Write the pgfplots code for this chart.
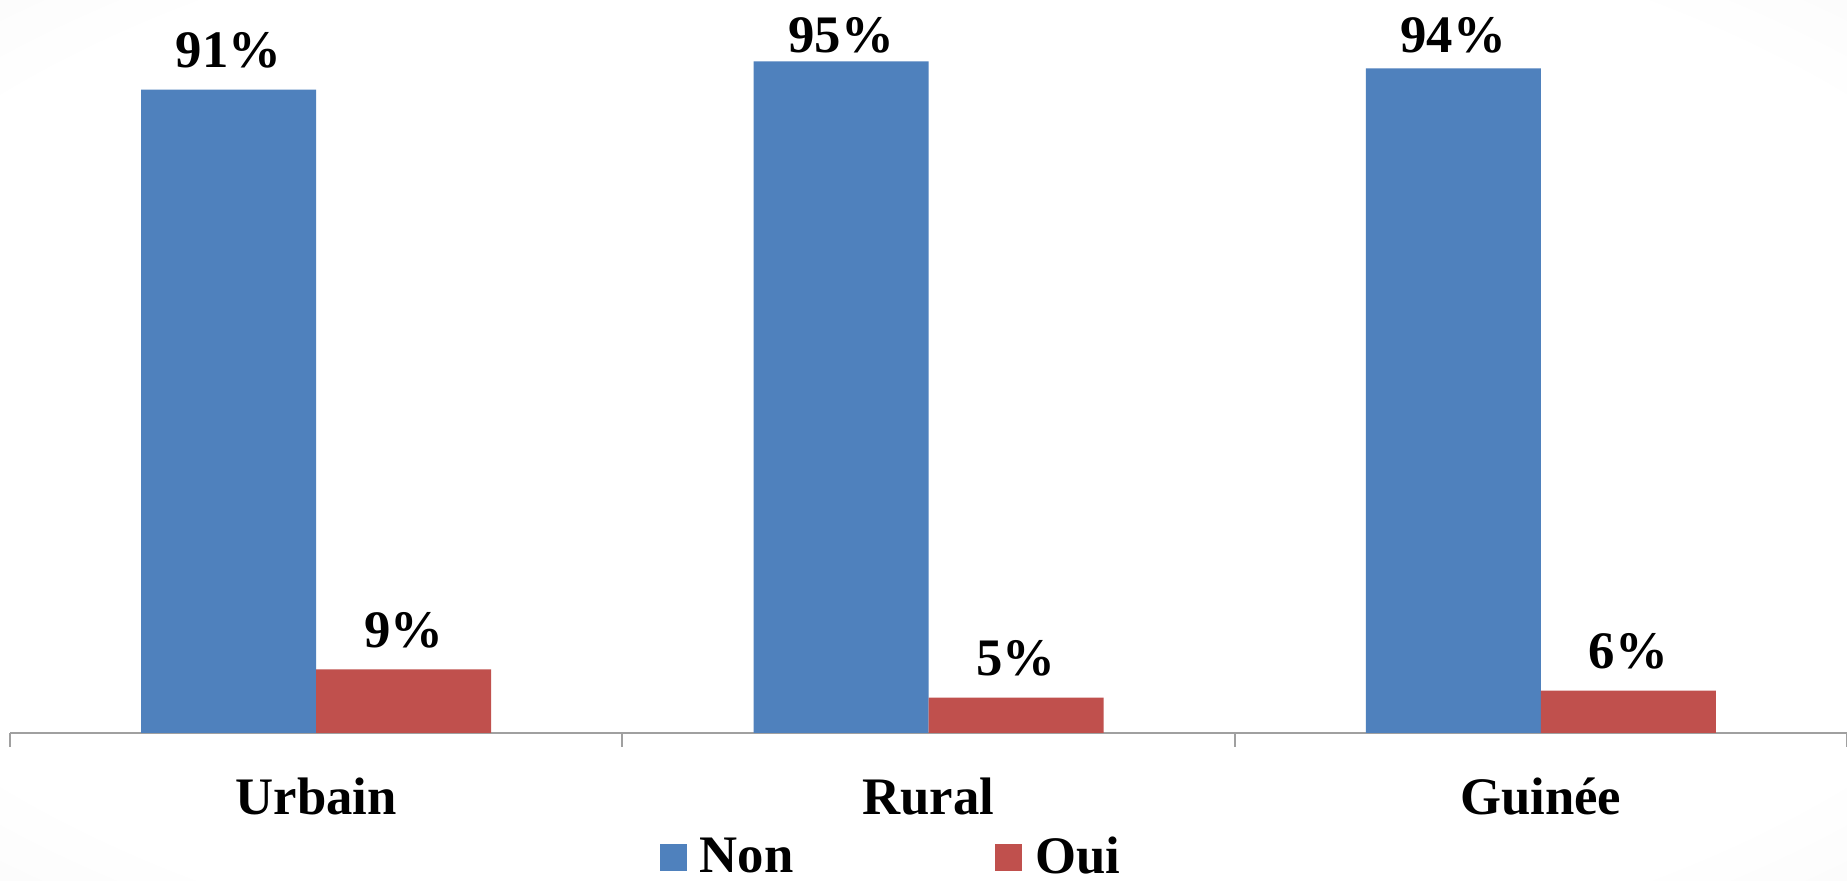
\documentclass[border=0pt]{standalone}
\usepackage{pgfplots}
\pgfplotsset{compat=1.18}
\usepackage{fontspec}
\setmainfont{Liberation Serif}
\definecolor{cblue}{HTML}{4F81BD}
\definecolor{cred}{HTML}{C0504D}
\definecolor{axgray}{HTML}{A0A0A0}
\definecolor{bgcorner}{HTML}{E2E2E2}
\pgfdeclareradialshading{bgshade}{\pgfpoint{0bp}{0bp}}{color(0bp)=(white); color(22bp)=(white); color(50bp)=(bgcorner)}
\begin{document}
\begin{tikzpicture}
\useasboundingbox (0,0) rectangle (18.47,8.81);
\begin{scope}
\clip (0,0) rectangle (18.47,8.81);
\shade[shading=bgshade] (-3.825,-1.825) rectangle (22.295,10.635);
\end{scope}
\begin{axis}[
 at={(0.10cm,1.48cm)}, anchor=south west,
 scale only axis, width=18.37cm, height=7.07cm,
 ybar=0pt, bar width=1.75cm,
 xmin=-0.5, xmax=2.5, ymin=0, ymax=100,
 enlarge x limits=false, enlarge y limits=false,
 clip=false,
 axis x line=bottom, axis y line=none,
 x axis line style={-, draw=axgray, line width=0.6pt},
 xtick={0,1,2}, xticklabels={Urbain,Rural,Guinée},
 major tick length=0pt,
 minor xtick={-0.5,0.5,1.5,2.5},
 minor tick length=0.14cm,
 tick align=outside,
 minor tick style={draw=axgray, line width=0.6pt},
 xticklabel style={font=\fontsize{15}{18}\selectfont\bfseries, anchor=base, yshift=-0.82cm},
 visualization depends on={y \as \rawy},
 nodes near coords={\pgfmathprintnumber{\pgfplotspointmeta}\%},
 /pgf/number format/assume math mode=true,
 every node near coord/.append style={font=\fontsize{15}{18}\selectfont\bfseries, anchor=base,
   yshift={(min(\rawy+3.11,96.3)-\rawy)*2.0117}, text=black},
 legend style={at={(0.481,-0.176)}, anchor=center, draw=none, fill=none,
   legend columns=2, font=\fontsize{15}{18}\selectfont\bfseries,
   /tikz/every even column/.append style={column sep=1.95cm}},
 legend cell align=left,
 legend image code/.code={\fill[#1] (0cm,-0.135cm) rectangle (0.27cm,0.135cm); \path (0.33cm,0);},
]
\addplot[fill=cblue, draw=none] coordinates {(0,91) (1,95) (2,94)};
\addplot[fill=cred, draw=none] coordinates {(0,9) (1,5) (2,6)};
\legend{Non,Oui}
\end{axis}
\end{tikzpicture}
\end{document}
